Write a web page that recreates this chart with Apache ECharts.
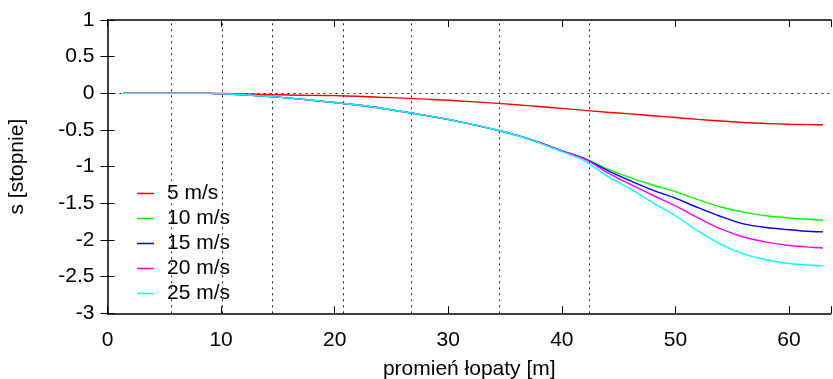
<!DOCTYPE html>
<html>
<head>
<meta charset="utf-8">
<script src="https://cdn.jsdelivr.net/npm/echarts@6/dist/echarts.min.js"></script>
<style>
  html, body { margin: 0; padding: 0; background: #fff; }
  #chart { width: 833px; height: 379px; }
</style>
</head>
<body>
<div id="chart"></div>
<script>
// Blade radius positions [m]
var radius = [1.4, 3, 5, 7, 9, 10, 12, 14, 16, 18, 20, 22, 24, 26, 28, 30, 32, 34, 36, 38, 40, 42, 44, 46, 48, 50, 52, 54, 56, 58, 60, 62, 63];

// Twist angle s [degrees] for each wind speed
var s5  = [0, 0, 0, 0, 0, -0.003, -0.008, -0.016, -0.023, -0.028, -0.032, -0.04, -0.053, -0.065, -0.079, -0.095, -0.113, -0.133, -0.155, -0.18, -0.205, -0.233, -0.258, -0.28, -0.305, -0.33, -0.355, -0.377, -0.397, -0.411, -0.421, -0.427, -0.428];
var s10 = [0, 0, 0, 0, 0, -0.005, -0.02, -0.04, -0.065, -0.095, -0.127, -0.162, -0.202, -0.252, -0.302, -0.358, -0.423, -0.493, -0.572, -0.67, -0.783, -0.888, -1.03, -1.15, -1.25, -1.34, -1.45, -1.55, -1.62, -1.67, -1.70, -1.72, -1.73];
var s15 = [0, 0, 0, 0, 0, -0.005, -0.02, -0.04, -0.065, -0.095, -0.125, -0.16, -0.2, -0.25, -0.3, -0.355, -0.42, -0.49, -0.57, -0.67, -0.785, -0.89, -1.05, -1.19, -1.32, -1.43, -1.56, -1.68, -1.78, -1.83, -1.86, -1.885, -1.89];
var s20 = [0, 0, 0, 0, 0, -0.005, -0.02, -0.04, -0.065, -0.095, -0.125, -0.16, -0.2, -0.25, -0.3, -0.355, -0.42, -0.49, -0.57, -0.67, -0.785, -0.895, -1.08, -1.24, -1.39, -1.535, -1.70, -1.85, -1.96, -2.03, -2.075, -2.10, -2.11];
var s25 = [0, 0, 0, 0, 0, -0.005, -0.02, -0.04, -0.065, -0.095, -0.125, -0.16, -0.2, -0.25, -0.3, -0.355, -0.42, -0.49, -0.572, -0.675, -0.795, -0.92, -1.13, -1.30, -1.49, -1.67, -1.88, -2.06, -2.19, -2.27, -2.32, -2.345, -2.35];

var seriesNames = ['5 m/s', '10 m/s', '15 m/s', '20 m/s', '25 m/s'];
var seriesColors = ['#ff0000', '#00ff00', '#0000ff', '#ff00ff', '#00ffff'];
var seriesValues = [s5, s10, s15, s20, s25];

// Radii of the blade sections marked with vertical dotted lines
var sectionRadius = [5.6, 10.1, 14.5, 20.8, 26.7, 34.5, 42.4];

var xTicks = [0, 10, 20, 30, 40, 50, 60];
var yMin = -3, yMax = 1, yStep = 0.5;

var FONT = '"Liberation Sans", Arial, Helvetica, sans-serif';
var FS = 21;

function pairs(xs, ys) {
  var out = [];
  for (var i = 0; i < xs.length; i++) out.push([xs[i], ys[i]]);
  return out;
}

var dotted = { color: '#222', width: 1, type: [2, 4] };

var series = seriesValues.map(function (vals, i) {
  var s = {
    name: seriesNames[i],
    type: 'line',
    data: pairs(radius, vals),
    showSymbol: false,
    smooth: 0.3,
    lineStyle: { color: seriesColors[i], width: 1.4 },
    itemStyle: { color: seriesColors[i] },
    z: 5 + i
  };
  if (i === 0) {
    s.markLine = {
      silent: true,
      symbol: ['none', 'none'],
      label: { show: false },
      lineStyle: dotted,
      data: sectionRadius.map(function (r) { return { xAxis: r }; })
        .concat([{ yAxis: 0 }])
    };
  }
  return s;
});

var chart = echarts.init(document.getElementById('chart'), null, { renderer: 'canvas' });

var tickInside = { show: true, inside: true, length: 7, lineStyle: { color: '#000', width: 1 } };

chart.setOption({
  animation: false,
  backgroundColor: '#fff',
  textStyle: { fontFamily: FONT },
  grid: {
    left: 107.5, right: 2, top: 20, bottom: 65.7,
    containLabel: false,
    outerBoundsMode: 'none'
  },
  legend: {
    orient: 'vertical',
    left: 132,
    top: 178,
    itemWidth: 17,
    itemHeight: 1.5,
    itemGap: 4,
    icon: 'rect',
    textStyle: { fontFamily: FONT, fontSize: FS, color: '#000', padding: [0, 0, 0, 8] },
    data: seriesNames
  },
  xAxis: [{
    type: 'value',
    min: 0, max: 63.7, interval: 10,
    position: 'bottom',
    name: 'promień łopaty [m]',
    nameLocation: 'middle',
    nameGap: 45,
    nameTextStyle: { fontFamily: FONT, fontSize: FS, color: '#000' },
    axisLine: { show: true, onZero: false, lineStyle: { color: '#000', width: 1.5 } },
    axisTick: tickInside,
    axisLabel: {
      fontFamily: FONT, fontSize: FS, color: '#000', margin: 16,
      formatter: function (v) { return xTicks.indexOf(v) >= 0 ? String(v) : ''; }
    },
    splitLine: { show: false }
  }, {
    type: 'value',
    min: 0, max: 63.7, interval: 10,
    position: 'top',
    axisLine: { show: true, onZero: false, lineStyle: { color: '#000', width: 1.5 } },
    axisTick: tickInside,
    axisLabel: { show: false },
    splitLine: { show: false }
  }],
  yAxis: [{
    type: 'value',
    min: yMin, max: yMax, interval: yStep,
    position: 'left',
    name: 's [stopnie]',
    nameLocation: 'middle',
    nameGap: 80,
    nameRotate: 90,
    nameTextStyle: { fontFamily: FONT, fontSize: FS, color: '#000' },
    axisLine: { show: true, onZero: false, lineStyle: { color: '#000', width: 1.5 } },
    axisTick: tickInside,
    axisLabel: { fontFamily: FONT, fontSize: FS, color: '#000', margin: 13 },
    splitLine: { show: false }
  }, {
    type: 'value',
    min: yMin, max: yMax, interval: yStep,
    position: 'right',
    axisLine: { show: false },
    axisTick: tickInside,
    axisLabel: { show: false },
    splitLine: { show: false }
  }],
  series: series
});
</script>
</body>
</html>
